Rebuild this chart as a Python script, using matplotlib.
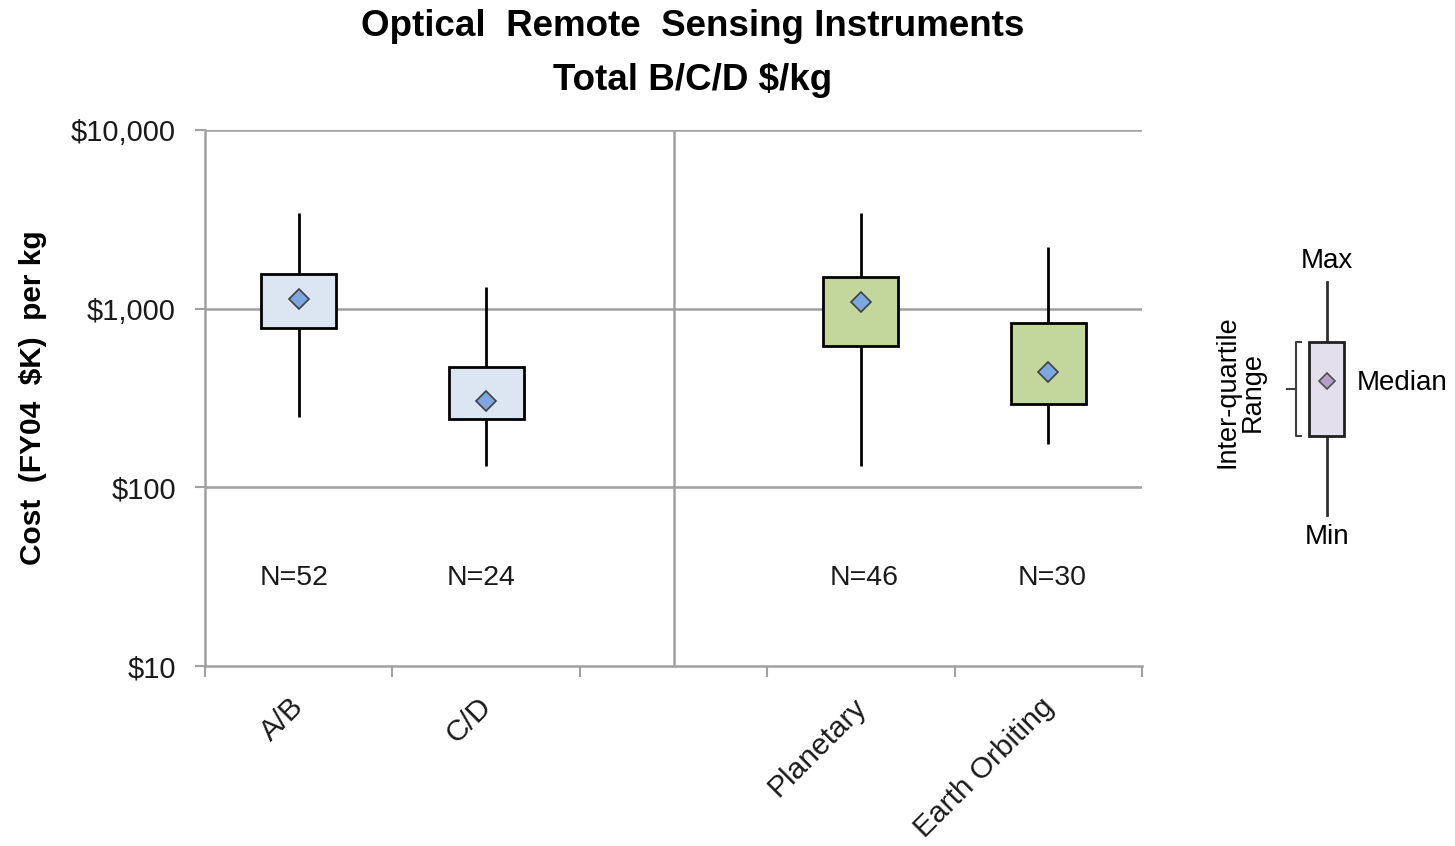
import numpy as np
import matplotlib.pyplot as plt
from matplotlib.ticker import FixedLocator, NullLocator, FuncFormatter
from matplotlib.transforms import ScaledTranslation

plt.rcParams['font.family'] = ['Liberation Sans', 'DejaVu Sans']

# category slots along x (the middle one is an empty spacer)
categories = ['A/B', 'C/D', '', 'Planetary', 'Earth Orbiting']
# groups that have a box, their slot index
group_slots = [0, 1, 3, 4]
group_n = ['N=52', 'N=24', 'N=46', 'N=30']
# cost (FY04 $K) per kg
cost_min = [248, 132, 132, 175]
cost_q1 = [780, 241, 618, 293]
cost_median = [1133, 304, 1091, 442]
cost_q3 = [1563, 472, 1504, 832]
cost_max = [3435, 1322, 3435, 2215]
box_colors = ['#dce6f2', '#dce6f2', '#c3d69b', '#c3d69b']

fig = plt.figure(figsize=(14.55, 8.46), dpi=100)
W, H = 1455, 846
ax = fig.add_axes([205 / W, 1 - 666 / H, 937 / W, 536 / H])

ax.set_yscale('log')
ax.set_ylim(10, 10000)
ax.set_xlim(-0.5, 4.5)

# whiskers behind boxes
ax.vlines(group_slots, cost_min, cost_max, color='black', lw=2, zorder=2)
ax.bar(group_slots, np.array(cost_q3) - np.array(cost_q1), bottom=cost_q1,
       width=0.4, color=box_colors, edgecolor='black', linewidth=2, zorder=3)
ax.plot(group_slots, cost_median, linestyle='none', marker='D', ms=10,
        mfc='#7ea6e0', mec='#404040', mew=1.2, zorder=4)

n_xoff = [-0.025, -0.025, 0.015, 0.02]
for s, n, o in zip(group_slots, group_n, n_xoff):
    ax.text(s + o, 31, n, ha='center', va='center', fontsize=20.5,
            color='#1a1a1a')

# grid and separator
for v in [100, 1000, 10000]:
    ax.axhline(v, color='#a0a0a0', lw=1.8, zorder=1)
ax.axvline(2, color='#a0a0a0', lw=1.8, zorder=1)

for side in ['top', 'right']:
    ax.spines[side].set_visible(False)
for side in ['left', 'bottom']:
    ax.spines[side].set_color('#a0a0a0')
    ax.spines[side].set_linewidth(1.8)

ax.yaxis.set_major_locator(FixedLocator([10, 100, 1000, 10000]))
ax.yaxis.set_minor_locator(NullLocator())
ax.yaxis.set_major_formatter(FuncFormatter(lambda v, p: '${:,.0f}'.format(v)))
ax.tick_params(axis='y', which='major', length=7, width=1.5, color='#a0a0a0',
               labelsize=21, pad=14, labelcolor='#1a1a1a')

ax.set_xticks(np.arange(-0.5, 5, 1.0))
ax.set_xticklabels([])
ax.set_xticks(range(len(categories)), minor=True)
ax.set_xticklabels(categories, minor=True, rotation=45, ha='right',
                   va='top', rotation_mode='anchor', fontsize=21.5,
                   color='#1a1a1a')
ax.tick_params(axis='x', which='major', length=8, width=1.5, color='#a0a0a0')
ax.tick_params(axis='x', which='minor', length=0, pad=22)
shift = ScaledTranslation(-9 / 100, 4 / 100, fig.dpi_scale_trans)
for lbl in ax.get_xticklabels(minor=True):
    lbl.set_transform(lbl.get_transform() + shift)

fig.text(693 / W, 1 - 27 / H, 'Optical  Remote  Sensing Instruments',
         ha='center', va='center', fontsize=26.5, fontweight='bold')
fig.text(693 / W, 1 - 80 / H, 'Total B/C/D $/kg',
         ha='center', va='center', fontsize=26.5, fontweight='bold')
fig.text(33 / W, 1 - 398 / H, 'Cost  (FY04  $K)  per kg', rotation=90,
         ha='center', va='center', fontsize=21.5, fontweight='bold')

# explanatory key on the right, drawn in pixel units
kx = fig.add_axes([1190 / W, 1 - 560 / H, 265 / W, 330 / H])
kx.set_xlim(1190, 1455)
kx.set_ylim(560, 230)
kx.axis('off')
kx.plot([1327, 1327], [282, 515], color='#303030', lw=2)
kx.add_patch(plt.Rectangle((1309, 342), 35, 94, facecolor='#e4dfec',
                           edgecolor='#202020', lw=2, zorder=3))
kx.plot([1327], [381], marker='D', ms=8, mfc='#b3a2c7', mec='#505050',
        mew=1.2, zorder=4)
kx.plot([1301, 1296, 1296, 1301], [342, 342, 436, 436], color='#404040', lw=1.5)
kx.plot([1287, 1296], [389, 389], color='#404040', lw=1.5)
kx.text(1327, 261, 'Max', ha='center', va='center', fontsize=20)
kx.text(1327, 537, 'Min', ha='center', va='center', fontsize=20)
kx.text(1357, 383, 'Median', ha='left', va='center', fontsize=20)
kx.text(1240, 392, 'Inter-quartile\nRange', rotation=90, ha='center',
        va='center', fontsize=19.5, linespacing=0.95)

fig.savefig('out.png', dpi=100)
